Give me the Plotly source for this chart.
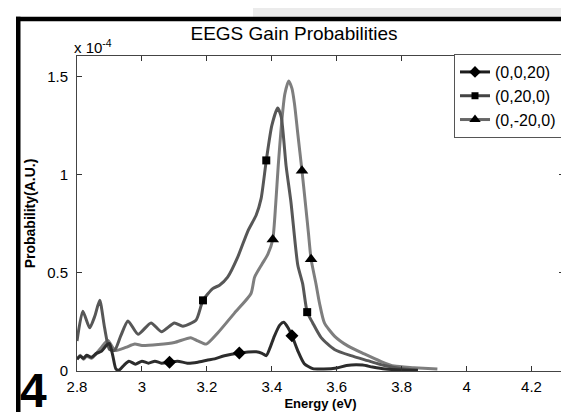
import plotly.graph_objects as go

# ---- data (probability in units of 1e-4) ----
x_d = [2.8, 2.81, 2.82, 2.83, 2.845, 2.86, 2.875, 2.89, 2.9, 2.91, 2.92, 2.93, 2.945, 2.96, 2.98,
       3.0, 3.02, 3.04, 3.06, 3.085, 3.11, 3.14, 3.172, 3.2, 3.224, 3.254, 3.30, 3.352, 3.37, 3.383,
       3.395, 3.408, 3.425, 3.437, 3.45, 3.462, 3.48, 3.50, 3.526, 3.56, 3.6, 3.63, 3.68, 3.71, 3.75,
       3.8, 3.85]
y_d = [0.06, 0.075, 0.065, 0.08, 0.07, 0.09, 0.10, 0.13, 0.14, 0.08, 0.01, 0.005, 0.03, 0.05, 0.035,
       0.05, 0.04, 0.05, 0.04, 0.045, 0.05, 0.04, 0.045, 0.055, 0.062, 0.078, 0.092, 0.098, 0.09, 0.078,
       0.12, 0.178, 0.235, 0.248, 0.22, 0.18, 0.103, 0.037, 0.012, 0.01, 0.015, 0.028, 0.03, 0.02, 0.01,
       0.005, 0.003]

x_s = [2.8, 2.818, 2.839, 2.855, 2.87, 2.885, 2.9, 2.916, 2.935, 2.957, 2.988, 3.028, 3.06, 3.1,
       3.126, 3.167, 3.188, 3.218, 3.239, 3.264, 3.295, 3.326, 3.352, 3.367, 3.383, 3.40, 3.418,
       3.429, 3.444, 3.459, 3.48, 3.495, 3.509, 3.526, 3.552, 3.593, 3.644, 3.695, 3.747, 3.80, 3.85]
y_s = [0.153, 0.305, 0.22, 0.28, 0.36, 0.22, 0.11, 0.105, 0.18, 0.255, 0.187, 0.245, 0.20, 0.245,
       0.228, 0.26, 0.36, 0.42, 0.437, 0.478, 0.58, 0.712, 0.795, 0.878, 1.073, 1.25, 1.34,
       1.295, 1.045, 0.86, 0.54, 0.445, 0.30, 0.245, 0.17, 0.11, 0.078, 0.053, 0.028, 0.012, 0.005]

x_t = [2.8, 2.81, 2.82, 2.83, 2.845, 2.86, 2.875, 2.895, 2.91, 2.92, 2.95, 2.978, 3.0, 3.05, 3.1,
       3.15, 3.172, 3.198, 3.234, 3.285, 3.336, 3.347, 3.37, 3.388, 3.403, 3.412, 3.42, 3.43,
       3.44, 3.452, 3.462, 3.47, 3.48, 3.493, 3.505, 3.513, 3.521, 3.536, 3.547, 3.562, 3.593,
       3.634, 3.685, 3.737, 3.777, 3.838, 3.91]
y_t = [0.06, 0.08, 0.06, 0.075, 0.065, 0.09, 0.12, 0.155, 0.12, 0.105, 0.12, 0.137, 0.13, 0.135, 0.145,
       0.17, 0.153, 0.137, 0.195, 0.295, 0.395, 0.478, 0.545, 0.595, 0.67, 0.85, 1.05, 1.26,
       1.41, 1.478, 1.44, 1.36, 1.21, 1.02, 0.83, 0.70, 0.57, 0.445, 0.345, 0.245, 0.178,
       0.128, 0.087, 0.048, 0.025, 0.017, 0.01]

mk_d_x = [3.085, 3.30, 3.462]
mk_d_y = [0.045, 0.092, 0.18]
mk_s_x = [3.188, 3.383, 3.509]
mk_s_y = [0.36, 1.073, 0.30]
mk_t_x = [3.403, 3.493, 3.521]
mk_t_y = [0.67, 1.02, 0.57]

names = ["(0,0,20)", "(0,20,0)", "(0,-20,0)"]
xticks = [2.8, 3.0, 3.2, 3.4, 3.6, 3.8, 4.0, 4.2]
xtick_text = ["2.8", "3", "3.2", "3.4", "3.6", "3.8", "4", "4.2"]
yticks = [0, 0.5, 1.0, 1.5]
ytick_text = ["0", "0.5", "1", "1.5"]

line_cols = ["#2c2c2c", "#575757", "#7e7e7e"]
leg_cols = ["#1e1e1e", "#444444", "#666666"]
symbols = ["diamond", "square", "triangle-up"]
msizes = [10, 8, 11]

FONT = "Liberation Sans, Arial, Helvetica, sans-serif"

fig = go.Figure()
series = [(x_d, y_d, mk_d_x, mk_d_y), (x_s, y_s, mk_s_x, mk_s_y), (x_t, y_t, mk_t_x, mk_t_y)]
for i in [2, 1, 0]:
    xs, ys, mx, my = series[i]
    fig.add_trace(go.Scatter(x=xs, y=ys, mode="lines", showlegend=False,
                             line=dict(color=line_cols[i], width=3, shape="spline", smoothing=0.6),
                             hoverinfo="skip"))
for i in range(3):
    xs, ys, mx, my = series[i]
    fig.add_trace(go.Scatter(x=mx, y=my, mode="markers", showlegend=False,
                             marker=dict(symbol=symbols[i], size=msizes[i], color="black")))
for i in range(3):
    fig.add_trace(go.Scatter(x=[None], y=[None], mode="lines+markers", name=names[i],
                             line=dict(color=leg_cols[i], width=3),
                             marker=dict(symbol=symbols[i], size=msizes[i] - 1, color="black")))

W, H = 569, 412
L, R, T, B = 69, 556, 48, 369
pw, ph = R - L, B - T

def px(xp):
    return (xp - L) / pw

def py(yp):
    return (B - yp) / ph

shapes = [
    dict(type="rect", xref="paper", yref="paper", x0=px(245), x1=px(575), y0=py(-5), y1=py(8),
         fillcolor="#ebebeb", line=dict(width=0), layer="below"),
    dict(type="rect", xref="paper", yref="paper", x0=px(8), x1=px(575), y0=py(12.5), y1=py(8),
         fillcolor="black", line=dict(width=0)),
    dict(type="rect", xref="paper", yref="paper", x0=px(8), x1=px(12.5), y0=py(420), y1=py(8),
         fillcolor="black", line=dict(width=0)),
]

annotations = [
    dict(text="x 10<sup>-4</sup>", xref="paper", yref="paper", x=px(64), y=py(38),
         xanchor="left", yanchor="middle", showarrow=False,
         font=dict(family=FONT, size=15, color="black")),
    dict(text="<b>4</b>", xref="paper", yref="paper", x=px(10), y=py(418),
         xanchor="left", yanchor="bottom", showarrow=False,
         font=dict(family=FONT, size=48, color="black")),
]

fig.update_layout(
    width=W, height=H,
    margin=dict(l=L, r=W - R, t=T, b=H - B, pad=0),
    paper_bgcolor="white", plot_bgcolor="white",
    title=dict(text="EEGS Gain Probabilities", x=286 / W, xanchor="center",
               y=1 - 25 / H, yanchor="middle",
               font=dict(family=FONT, size=19, color="black")),
    font=dict(family=FONT, size=14, color="black"),
    xaxis=dict(range=[2.8, 4.3], tickvals=xticks, ticktext=xtick_text,
               ticks="inside", ticklen=5, tickcolor="#333", mirror="ticks",
               showline=True, linecolor="#444", linewidth=1, showgrid=False, zeroline=False,
               tickfont=dict(size=15), ticklabelstandoff=2,
               title=dict(text="<b>Energy (eV)</b>", font=dict(size=13), standoff=4)),
    yaxis=dict(range=[0, 1.605], tickvals=yticks, ticktext=ytick_text,
               ticks="inside", ticklen=5, tickcolor="#333", mirror="ticks",
               showline=True, linecolor="#444", linewidth=1, showgrid=False, zeroline=False,
               tickfont=dict(size=15), ticklabelstandoff=5,
               title=dict(text="<b>Probability(A.U.)</b>", font=dict(size=14), standoff=8)),
    legend=dict(x=px(446), y=py(46), xanchor="left", yanchor="top",
                bgcolor="white", bordercolor="#555", borderwidth=1,
                font=dict(family=FONT, size=16, color="black"),
                itemwidth=30, tracegroupgap=0),
    shapes=shapes,
    annotations=annotations,
)

fig.write_html("out.html")
